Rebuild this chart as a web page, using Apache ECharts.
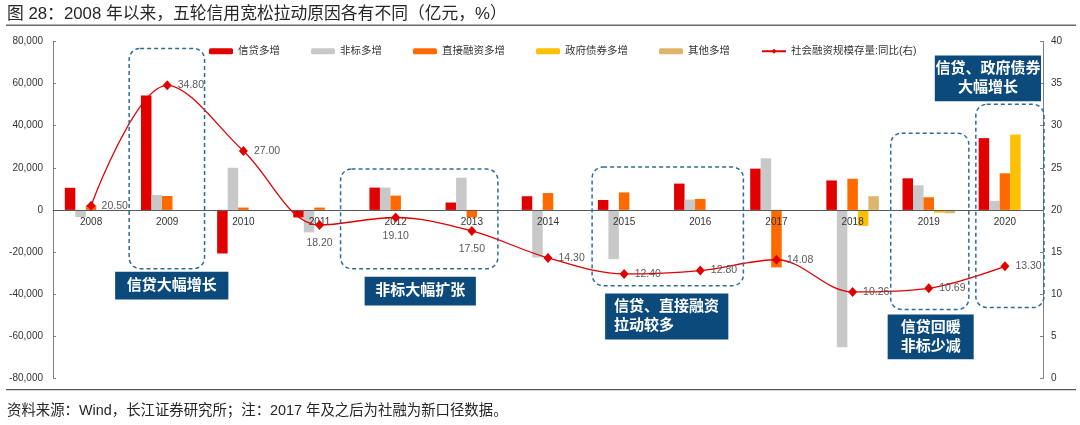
<!DOCTYPE html>
<html>
<head>
<meta charset="utf-8">
<script src="https://cdn.jsdelivr.net/npm/echarts@6/dist/echarts.min.js"></script>
<style>
html,body{margin:0;padding:0;background:#fff;}
#c{width:1080px;height:425px;}
</style>
</head>
<body>
<div id="c"></div>
<script>
// ---- data ----
const categories = ['2008','2009','2010','2011','2012','2013','2014','2015','2016','2017','2018','2019','2020'];
const loans   = [10500, 54300, -20700, -3600, 10600, 3500, 6500, 4700, 12500, 19600, 14000, 15000, 34100];
const nonStd  = [-3400, 7100, 20000, -10700, 10600, 15300, -22600, -23400, 4900, 24500, -65200, 11700, 4300];
const direct  = [2200, 6600, 1100, 1100, 6800, -3600, 8000, 8300, 5200, -27300, 14800, 6000, 17400];
const govBond = ['-','-','-','-','-','-','-','-','-', 0, -7600, -1300, 35800];
const others  = ['-','-','-','-','-','-','-','-','-', 0, 6500, -1600, 0];
const tsfYoY  = [20.50, 34.80, 27.00, 18.20, 19.10, 17.50, 14.30, 12.40, 12.80, 14.08, 10.26, 10.69, 13.30];
const seriesNames = ['信贷多增','非标多增','直接融资多增','政府债券多增','其他多增','社会融资规模存量:同比(右)'];
const leftTicks = {min:-80000, max:80000, interval:20000};
const rightTicks = {min:0, max:40, interval:5};
const titleText = '图 28：2008 年以来，五轮信用宽松拉动原因各有不同（亿元，%）';
const sourceText = '资料来源：Wind，长江证券研究所；注：2017 年及之后为社融为新口径数据。';
const labelBelow = [3,4,5];

// annotations: [fracCategoryStart, leftValueTop, fracCategoryEnd, leftValueBottom]
const dashBoxes = [
  [0.5, 76700, 1.49, -27900],
  [3.276, 19400, 5.342, -27900],
  [6.579, 20350, 8.566, -36000],
  [10.5, 36450, 11.526, -47340],
  [11.618, 50180, 12.513, -46390]
];
const noteBoxes = [
  {text:'信贷大幅增长', box:[0.316, -29350, 1.803, -42600], align:'center'},
  {text:'非标大幅扩张', box:[3.592, -31700, 5.053, -45440], align:'center'},
  {text:'信贷、直接融资\n拉动较多', box:[6.75, -39760, 8.368, -61540], align:'left'},
  {text:'信贷回暖\n非标少减', box:[10.46, -49700, 11.59, -71000], align:'center'},
  {text:'信贷、政府债券\n大幅增长', box:[11.079, 73370, 12.474, 51600], align:'center'}
];

const FONT = "'Liberation Sans','Noto Sans CJK SC',sans-serif";
const colors = ['#E00000','#C8C8C8','#FF6A00','#FFC000','#DDB56B','#E00000'];
const GRID = {left: 53, right: 37, top: 41.5, bottom: 46.7};
const plotH = 425 - GRID.top - GRID.bottom;

const barData = [loans, nonStd, direct, govBond, others];
const barSeries = barData.map((d, i) => ({
  name: seriesNames[i],
  type: 'bar',
  data: d,
  barWidth: 10.5,
  barGap: '0%',
  itemStyle: {color: colors[i]},
  z: 2
}));

const lineData = tsfYoY.map((v, i) => labelBelow.includes(i)
  ? {value: v, label: {position: 'bottom', distance: 8}}
  : {value: v});

const option = {
  animation: false,
  textStyle: {fontFamily: FONT},
  color: colors,
  legend: {
    left: 209, top: 46, padding: 0,
    itemWidth: 24, itemHeight: 6, itemGap: 31,
    textStyle: {fontSize: 10.5, color: '#333', fontFamily: FONT},
    data: seriesNames
  },
  grid: Object.assign({containLabel: false}, GRID),
  xAxis: {
    type: 'category',
    data: categories,
    position: 'bottom',
    z: 3,
    offset: -plotH * (0 - leftTicks.min) / (leftTicks.max - leftTicks.min),
    axisLine: {onZero: false, lineStyle: {color: '#595959', width: 1}},
    axisTick: {inside: true, length: 3, lineStyle: {color: '#595959'}},
    axisLabel: {interval: 0, fontSize: 10, color: '#333', margin: 7, fontFamily: FONT},
    splitLine: {show: false}
  },
  yAxis: [
    {
      type: 'value', min: leftTicks.min, max: leftTicks.max, interval: leftTicks.interval,
      axisLine: {show: true, lineStyle: {color: '#808080'}},
      axisTick: {show: true, inside: true, length: 3, lineStyle: {color: '#808080'}},
      axisLabel: {fontSize: 10, color: '#333', margin: 10, fontFamily: FONT,
        formatter: v => v.toLocaleString('en-US')},
      splitLine: {show: false}
    },
    {
      type: 'value', min: rightTicks.min, max: rightTicks.max, interval: rightTicks.interval,
      position: 'right',
      axisLine: {show: true, lineStyle: {color: '#808080'}},
      axisTick: {show: true, inside: true, length: 3, lineStyle: {color: '#808080'}},
      axisLabel: {fontSize: 10, color: '#333', margin: 8, fontFamily: FONT},
      splitLine: {show: false}
    }
  ],
  series: barSeries.concat([{
    name: seriesNames[5],
    type: 'line',
    yAxisIndex: 1,
    data: lineData,
    smooth: 0.35,
    symbol: 'diamond',
    symbolSize: [9, 10],
    lineStyle: {color: colors[5], width: 1.3},
    itemStyle: {color: colors[5]},
    label: {
      show: true, position: 'right', distance: 6,
      color: '#595959', fontSize: 10.5, fontFamily: FONT,
      formatter: p => Number(p.value).toFixed(2)
    },
    z: 5
  }])
};

const chart = echarts.init(document.getElementById('c'), null, {renderer: 'canvas'});
chart.setOption(option);

function px(f, v) {
  const a = chart.convertToPixel({xAxisIndex: 0, yAxisIndex: 0}, [0, v]);
  const b = chart.convertToPixel({xAxisIndex: 0, yAxisIndex: 0}, [1, v]);
  return [a[0] + f * (b[0] - a[0]), a[1]];
}

const elements = [];
// title
elements.push({type: 'text', left: 7, top: 6, silent: true,
  style: {text: titleText, fill: '#262626', font: "16.8px " + FONT}});
elements.push({type: 'rect', silent: true, shape: {x: 6, y: 24.5, width: 1070, height: 1.5},
  style: {fill: '#6b6b6b'}});
// footer
elements.push({type: 'rect', silent: true, shape: {x: 6, y: 389, width: 1070, height: 1.2},
  style: {fill: '#555'}});
elements.push({type: 'text', left: 7, top: 404, silent: true,
  style: {text: sourceText, fill: '#262626', font: "14.4px " + FONT}});

dashBoxes.forEach(b => {
  const p0 = px(b[0], b[1]), p1 = px(b[2], b[3]);
  elements.push({type: 'rect', silent: true, z: 10,
    shape: {x: p0[0], y: p0[1], width: p1[0] - p0[0], height: p1[1] - p0[1], r: 11},
    style: {fill: 'none', stroke: '#2F6B9A', lineWidth: 1.5, lineDash: [4, 3]}});
});
noteBoxes.forEach(n => {
  const p0 = px(n.box[0], n.box[1]), p1 = px(n.box[2], n.box[3]);
  const w = p1[0] - p0[0], h = p1[1] - p0[1];
  elements.push({type: 'rect', silent: true, z: 11,
    shape: {x: p0[0], y: p0[1], width: w, height: h},
    style: {fill: '#0C4A7C'}});
  const tx = n.align === 'left' ? p0[0] + 9 : p0[0] + w / 2;
  elements.push({type: 'text', silent: true, z: 12,
    x: tx, y: p0[1] + h / 2,
    style: {text: n.text, fill: '#fff', font: "bold 15px " + FONT,
      textAlign: n.align, textVerticalAlign: 'middle', lineHeight: 19}});
});

chart.setOption({graphic: {elements: elements}});
</script>
</body>
</html>
